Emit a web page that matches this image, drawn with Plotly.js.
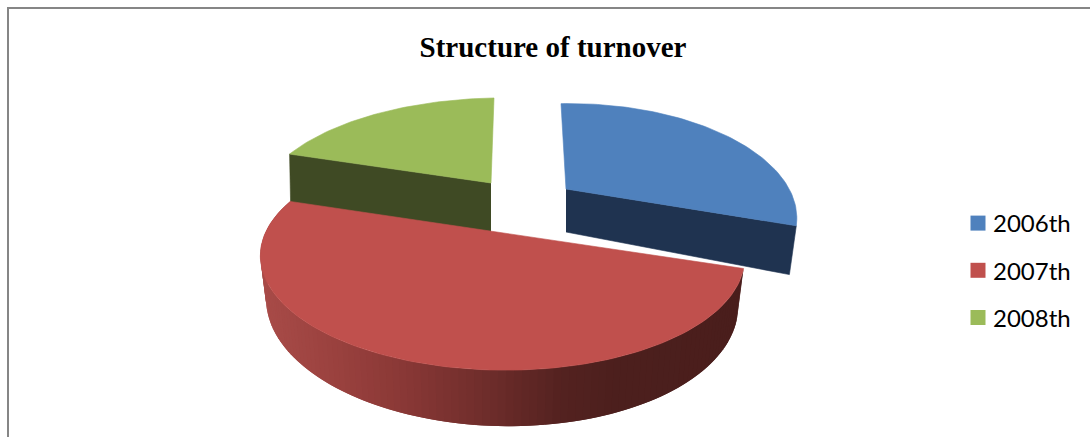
<!DOCTYPE html>
<html>
<head>
<meta charset="utf-8">
<script src="https://cdn.plot.ly/plotly-3.0.1.min.js"></script>
<style>html,body{margin:0;padding:0;background:#fff}#c{width:1090px;height:437px}</style>
</head>
<body>
<div id="c"></div>
<script>
// Data
const categories = ['2006th', '2007th', '2008th'];
const shares = [30, 50, 20];
const topColors = ['#4f81bd', '#c0504d', '#9bbb59'];
const sideColors = ['#1f3350', '#a84b48', '#3f4a24'];

// Perspective view of each exploded slice (pixels of the drawing)
const view = [
  {ax: 566, ay: 189, rx: 212, ry: 105, sh: 5, d: 43, inset: 0.97},
  {ax: 490, ay: 231, rx: 235, ry: 107, sh: 0, d: 43, inset: 0.975},
  {ax: 491, ay: 183, rx: 238, ry: 104.6, sh: -3, d: 54, inset: 0.995}
];
const K = 0.23, M = 0.05;

function project(v, deg) {
  const t = deg * Math.PI / 180, X = Math.sin(t), Y = -Math.cos(t);
  const s = 1 / (1 - K * Y - M * X);
  const x = v.ax + v.rx * X * s + v.sh * Y;
  const y = v.ay + v.ry * Y * s;
  return {x, y, bx: v.ax + (x - v.ax) * v.inset, by: y + v.d * s};
}
function poly(xs, ys, color, lineWidth) {
  return {
    type: 'scatter', mode: 'lines', x: xs, y: ys, fill: 'toself', fillcolor: color,
    line: {color: color, width: lineWidth === undefined ? 0.6 : lineWidth}, showlegend: false, hoverinfo: 'skip'
  };
}

// slice angles from the shares, clockwise from the top
const total = shares.reduce((a, b) => a + b, 0);
let acc = 0;
const ranges = shares.map(v => { const a = acc; acc += v / total * 360; return [a, acc]; });

function arc(v, a, b) {
  const pts = [], n = Math.max(2, Math.round((b - a) / 1.5));
  for (let i = 0; i <= n; i++) pts.push(project(v, a + (b - a) * i / n));
  return pts;
}
function topFace(i) {
  const v = view[i], p = arc(v, ranges[i][0], ranges[i][1]);
  return poly([v.ax, ...p.map(q => q.x), v.ax], [v.ay, ...p.map(q => q.y), v.ay], topColors[i]);
}
// flat cut face running from the centre to the rim at a given angle
function cutFace(i, deg) {
  const v = view[i], p = project(v, deg);
  return poly([v.ax, p.x, p.bx, v.ax], [v.ay, p.y, p.by, v.ay + v.d], sideColors[i]);
}
function mix(a, b, t) {
  return 'rgb(' + a.map((c, k) => Math.round(c + (b[k] - c) * t)).join(',') + ')';
}
const shadeX = [262, 330, 400, 500, 560, 620, 745];
const shadeC = [[168,75,72],[155,66,63],[138,56,54],[106,43,41],[84,34,32],[76,31,29],[74,30,28]];
function shade(x) {
  for (let i = 1; i < shadeX.length; i++) {
    if (x <= shadeX[i]) return mix(shadeC[i-1], shadeC[i], Math.max(0, (x - shadeX[i-1]) / (shadeX[i] - shadeX[i-1])));
  }
  return mix(shadeC[6], shadeC[6], 0);
}
function rimStrips(i) {
  const out = [], p = arc(view[i], ranges[i][0], ranges[i][1]);
  // strips overlap their neighbour so no seams show between them
  for (let k = 0; k < p.length - 1; k++) {
    const a = p[k], b = p[Math.min(k + 2, p.length - 1)], m = p[k + 1];
    out.push(poly([a.x, b.x, b.bx, a.bx, a.x], [a.y, b.y, b.by, a.by, a.y], shade((a.x + m.x) / 2), 0));
  }
  return out;
}

const traces = [
  cutFace(2, ranges[2][0]), topFace(2),
  cutFace(0, ranges[0][1]), topFace(0),
  ...rimStrips(1), topFace(1),
  ...categories.map((c, i) => ({
    type: 'scatter', mode: 'markers', x: [null], y: [null], name: c, legendgroup: c,
    marker: {symbol: 'square', size: 15, color: topColors[i]}, hoverinfo: 'skip'
  }))
];

const layout = {
  width: 1090, height: 437, margin: {l: 0, r: 0, t: 0, b: 0},
  paper_bgcolor: '#fff', plot_bgcolor: '#fff',
  title: {text: '<b>Structure of turnover</b>', x: 553 / 1090, xanchor: 'center', y: 1 - 47 / 437, yanchor: 'middle',
          font: {family: 'Liberation Serif', size: 29, color: '#000'}},
  xaxis: {range: [0, 1090], visible: false, fixedrange: true},
  yaxis: {range: [437, 0], visible: false, fixedrange: true},
  showlegend: true,
  legend: {x: 953 / 1090, xanchor: 'left', y: 1 - 201 / 437, yanchor: 'top', tracegroupgap: 13,
           font: {family: 'Lato', size: 24, color: '#000'}, bgcolor: 'rgba(0,0,0,0)'},
  shapes: [
    {type: 'line', xref: 'paper', yref: 'paper', x0: 8 / 1090, x1: 1, y0: 1 - 8 / 437, y1: 1 - 8 / 437, line: {color: '#868686', width: 2}},
    {type: 'line', xref: 'paper', yref: 'paper', x0: 8 / 1090, x1: 8 / 1090, y0: 0, y1: 1 - 7 / 437, line: {color: '#868686', width: 2}}
  ]
};
Plotly.newPlot('c', traces, layout, {displayModeBar: false, staticPlot: true}).then(() => {
  document.querySelectorAll('#c .legendsymbols').forEach(g => g.setAttribute('transform', 'translate(5,0)'));
});
</script>
</body>
</html>
